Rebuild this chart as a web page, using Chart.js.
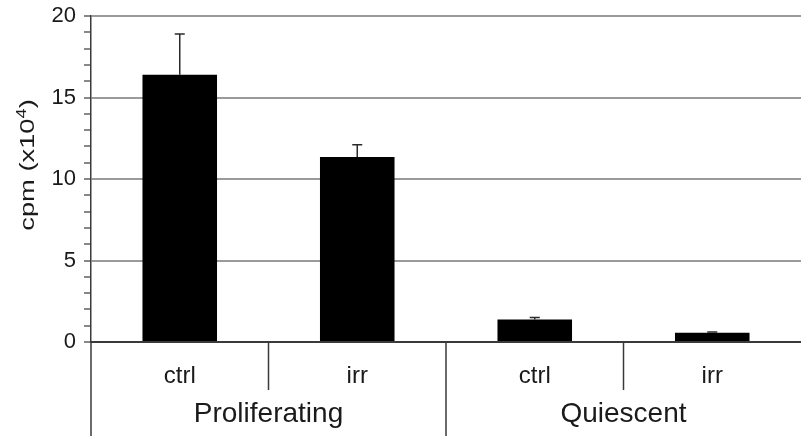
<!DOCTYPE html>
<html>
<head>
<meta charset="utf-8">
<title>cpm</title>
<script src="https://cdn.jsdelivr.net/npm/chart.js@4.4.1/dist/chart.umd.min.js"></script>
<style>
  html, body { margin: 0; padding: 0; background: #fff; }
  #wrap { width: 801px; height: 436px; }
</style>
</head>
<body>
<div id="wrap"><canvas id="c" width="801" height="436"></canvas></div>
<script>
// Categories (treatment) and the group each one belongs to
const categories = ['ctrl', 'irr', 'ctrl', 'irr'];
const groups = ['Proliferating', 'Quiescent'];
const groupIndex = [0, 0, 1, 1];

// Mean cpm (x10^4) and the upper error for each bar
const cpmValues = [16.4, 11.35, 1.38, 0.57];
const cpmErrors = [2.5, 0.75, 0.13, 0.05];

// Labelled y ticks
const yTickLabels = [0, 5, 10, 15, 20];

const FONT = '"Liberation Sans", Arial, Helvetica, sans-serif';

// Error bars on top of each bar
const errorBars = {
  id: 'errorBars',
  afterDatasetsDraw(chart) {
    const ctx = chart.ctx;
    const y = chart.scales.y;
    const meta = chart.getDatasetMeta(0);
    ctx.save();
    ctx.strokeStyle = '#2a2a2a';
    ctx.lineWidth = 1.5;
    meta.data.forEach((bar, i) => {
      const top = y.getPixelForValue(cpmValues[i] + cpmErrors[i]);
      ctx.beginPath();
      ctx.moveTo(bar.x, bar.y);
      ctx.lineTo(bar.x, top);
      ctx.moveTo(bar.x - 5, top);
      ctx.lineTo(bar.x + 5, top);
      ctx.stroke();
    });
    ctx.restore();
  }
};

// Separators, group names under the x axis and the y axis title
const axisDecor = {
  id: 'axisDecor',
  afterDraw(chart) {
    const ctx = chart.ctx;
    const x = chart.scales.x;
    const area = chart.chartArea;
    const step = x.getPixelForTick(1) - x.getPixelForTick(0);
    const bottom = chart.height;
    ctx.save();
    ctx.strokeStyle = '#3a3a3a';
    ctx.lineWidth = 1.5;
    categories.forEach((c, i) => {
      const left = x.getPixelForTick(i) - step / 2;
      const groupStart = i === 0 || groupIndex[i] !== groupIndex[i - 1];
      ctx.beginPath();
      ctx.moveTo(left, area.bottom);
      ctx.lineTo(left, groupStart ? bottom : area.bottom + 48);
      ctx.stroke();
    });

    // group names
    ctx.fillStyle = '#1a1a1a';
    ctx.font = '28px ' + FONT;
    ctx.textAlign = 'center';
    ctx.textBaseline = 'alphabetic';
    groups.forEach((g, gi) => {
      const idx = categories.map((c, i) => i).filter(i => groupIndex[i] === gi);
      const cx = (x.getPixelForTick(idx[0]) + x.getPixelForTick(idx[idx.length - 1])) / 2;
      ctx.fillText(g, cx, 422);
    });

    // y axis title with superscript
    const main = 'cpm (x10';
    const sup = '4';
    const close = ')';
    ctx.translate(28, 165);
    ctx.rotate(-Math.PI / 2);
    ctx.scale(1.3, 1);
    ctx.textAlign = 'left';
    ctx.textBaseline = 'middle';
    ctx.font = '21px ' + FONT;
    const wMain = ctx.measureText(main).width;
    const wClose = ctx.measureText(close).width;
    ctx.font = '14px ' + FONT;
    const wSup = ctx.measureText(sup).width;
    const start = -(wMain + wSup + wClose) / 2;
    ctx.font = '21px ' + FONT;
    ctx.fillText(main, start, 0);
    ctx.font = '14px ' + FONT;
    ctx.fillText(sup, start + wMain, -6);
    ctx.font = '21px ' + FONT;
    ctx.fillText(close, start + wMain + wSup, 0);
    ctx.restore();
  }
};

new Chart(document.getElementById('c'), {
  type: 'bar',
  data: {
    labels: categories,
    datasets: [{
      data: cpmValues,
      backgroundColor: '#000',
      borderWidth: 0,
      categoryPercentage: 1,
      barPercentage: 0.42
    }]
  },
  options: {
    responsive: false,
    animation: false,
    devicePixelRatio: 1,
    layout: { padding: { top: 16, right: 0, left: 0, bottom: 0 } },
    plugins: { legend: { display: false }, tooltip: { enabled: false } },
    scales: {
      x: {
        grid: { display: true, drawOnChartArea: false, drawTicks: false },
        border: { display: true, color: '#3a3a3a', width: 2 },
        ticks: {
          color: '#1a1a1a',
          font: { family: FONT, size: 24 },
          padding: 20,
          maxRotation: 0
        },
        afterFit(scale) { scale.height = 94; }
      },
      y: {
        min: 0,
        max: 20,
        grid: {
          color: ctx => (ctx.tick && yTickLabels.includes(ctx.tick.value)) ? '#9a9a9a' : 'rgba(0,0,0,0)',
          lineWidth: 2,
          tickColor: '#3a3a3a',
          tickLength: 7,
          tickWidth: 1.2
        },
        border: { display: true, color: '#3a3a3a', width: 1.5 },
        ticks: {
          stepSize: 1,
          autoSkip: false,
          padding: 8,
          color: '#1a1a1a',
          font: { family: FONT, size: 22 },
          callback: v => yTickLabels.includes(v) ? String(v) : ''
        },
        afterFit(scale) {
          scale.width = 91;
          scale.paddingTop = 0;
          scale.paddingBottom = 0;
        }
      }
    }
  },
  plugins: [errorBars, axisDecor]
});
</script>
</body>
</html>
